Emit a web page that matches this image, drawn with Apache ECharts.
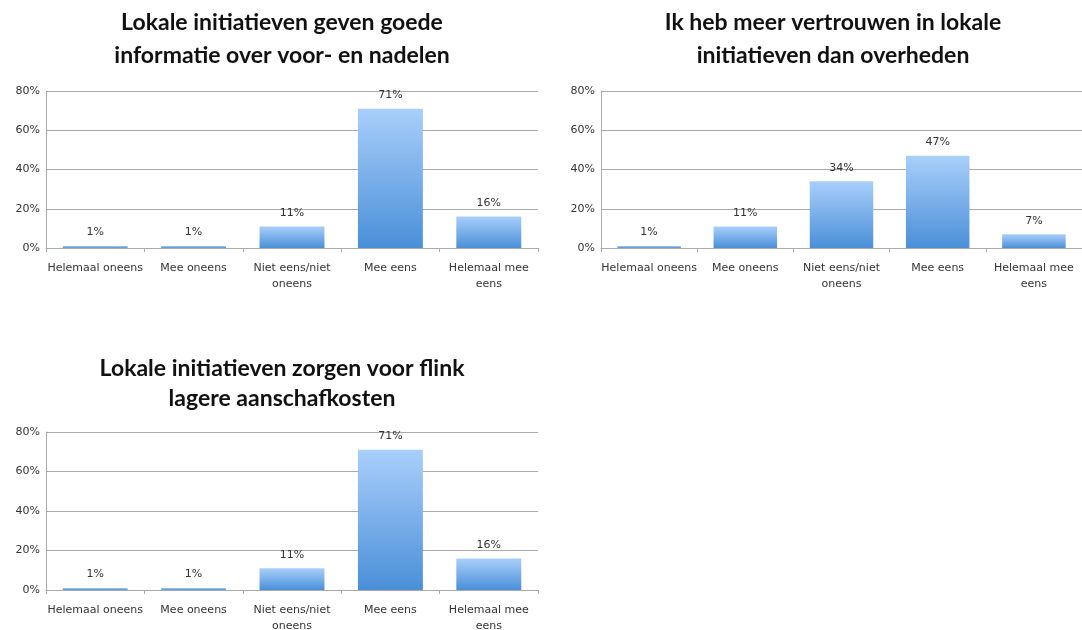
<!DOCTYPE html>
<html>
<head>
<meta charset="utf-8">
<script src="https://cdn.jsdelivr.net/npm/echarts@6/dist/echarts.min.js"></script>
<style>html,body{margin:0;padding:0;background:#fff}#c{width:1082px;height:630px}</style>
</head>
<body>
<div id="c"></div>
<script>
const categories = ['Helemaal oneens', 'Mee oneens', 'Niet eens/niet oneens', 'Mee eens', 'Helemaal mee eens'];
const title1 = 'Lokale initiatieven geven goede\ninformatie over voor- en nadelen';
const title2 = 'Ik heb meer vertrouwen in lokale\ninitiatieven dan overheden';
const title3 = 'Lokale initiatieven zorgen voor flink\nlagere aanschafkosten';
const values1 = [1, 1, 11, 71, 16];
const values2 = [1, 11, 34, 47, 7];
const values3 = [1, 1, 11, 71, 16];
const yTicks = [0, 20, 40, 60, 80];

const chart = echarts.init(document.getElementById('c'));
const font = 'Lato';
const labelFont = '"DejaVu Sans"';
const grids = [
  {left: 46, top: 91, width: 492, height: 157},
  {left: 601, top: 91, width: 481, height: 157},
  {left: 46, top: 432, width: 492, height: 158}
].map(g => Object.assign(g, {containLabel: false, outerBoundsMode: 'none'}));
const titles = [
  {text: title1, left: 277, top: 1, lh: 33},
  {text: title2, left: 828, top: 1, lh: 33},
  {text: title3, left: 277, top: 349, lh: 30}
].map(t => ({
  text: t.text, left: t.left, top: t.top, textAlign: 'center',
  textStyle: {fontFamily: font, fontWeight: 'bold', fontSize: 23, color: '#111', lineHeight: t.lh}
}));
const series = [values1, values2, values3];
const grad = new echarts.graphic.LinearGradient(0, 0, 0, 1, [
  {offset: 0, color: '#a9cffb'},
  {offset: 1, color: '#4a8fd8'}
]);
chart.setOption({
  animation: false,
  title: titles,
  grid: grids,
  xAxis: grids.map((g, i) => ({
    type: 'category', gridIndex: i, data: categories,
    axisLine: {lineStyle: {color: '#aaa'}},
    axisTick: {show: true, alignWithLabel: false, length: 4, lineStyle: {color: '#aaa'}},
    axisLabel: {
      fontFamily: labelFont, fontSize: 11, color: '#333', interval: 0, lineHeight: 16, margin: 12,
      formatter: v => v.replace('/niet ', '/niet\n').replace('mee eens', 'mee\neens')
    }
  })),
  yAxis: grids.map((g, i) => ({
    type: 'value', gridIndex: i, min: yTicks[0], max: yTicks[yTicks.length - 1], interval: 20,
    axisLine: {show: true, lineStyle: {color: '#aaa'}},
    axisTick: {show: false},
    splitLine: {lineStyle: {color: '#aaa', width: 1}},
    axisLabel: {fontFamily: labelFont, fontSize: 11, color: '#333', formatter: '{value}%', margin: 6}
  })),
  series: series.map((v, i) => ({
    type: 'bar', xAxisIndex: i, yAxisIndex: i, data: v, barWidth: '66%',
    itemStyle: {color: grad},
    label: {show: true, position: 'top', formatter: '{c}%', fontFamily: labelFont, fontSize: 11, color: '#333', distance: 8}
  }))
});
</script>
</body>
</html>
